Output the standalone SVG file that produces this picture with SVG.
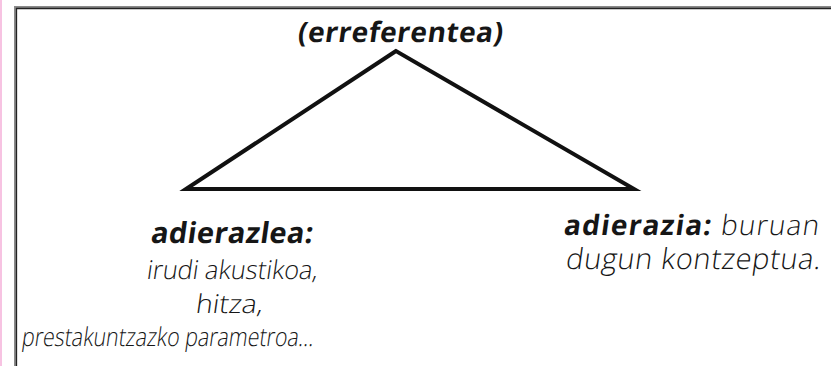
<svg xmlns="http://www.w3.org/2000/svg" width="831" height="366" viewBox="0 0 831 366">
<style>
.t{font-family:"Open Sans","Noto Sans","Liberation Sans",sans-serif;fill:#161616;}
.b{font-weight:bold;}
.r{font-weight:300;}
</style>
<rect x="0" y="0" width="831" height="366" fill="#ffffff"/>
<rect x="0" y="0" width="2" height="366" fill="#f7c3e2"/>
<g id="frame">
<path d="M15.5 366 V7.5 H831" fill="none" stroke="#8a8a8a" stroke-width="3"/>
<path d="M16.5 366 V8.5 H831" fill="none" stroke="#222" stroke-width="1.3"/>
</g>
<g id="connectors">
<polygon points="396,51 186,189 634,189" fill="none" stroke="#111" stroke-width="4" stroke-linejoin="miter"/>
</g>
<g id="erreferentea">
<text class="t b" style="font-size:28px" transform="translate(297,42) skewX(-8)" textLength="205">(erreferentea)</text>
</g>
<g id="adierazlea">
<text class="t b" style="font-size:29px" transform="translate(150,243) skewX(-8)" textLength="162">adierazlea:</text>
<text class="t r" style="font-size:26px" transform="translate(146,279) skewX(-8)" textLength="171" lengthAdjust="spacingAndGlyphs">irudi akustikoa,</text>
<text class="t r" style="font-size:26px" transform="translate(195,313) skewX(-8)" textLength="67" lengthAdjust="spacingAndGlyphs">hitza,</text>
<text class="t r" style="font-size:26px" transform="translate(21,346) skewX(-8)" textLength="292" lengthAdjust="spacingAndGlyphs">prestakuntzazko parametroa…</text>
</g>
<g id="adierazia">
<text class="t" style="font-size:28px" transform="translate(563,235) skewX(-8)" textLength="255"><tspan class="b">adierazia:</tspan><tspan class="r"> buruan</tspan></text>
<text class="t r" style="font-size:29px" transform="translate(565,269) skewX(-8)" textLength="255">dugun kontzeptua.</text>
</g>
</svg>
